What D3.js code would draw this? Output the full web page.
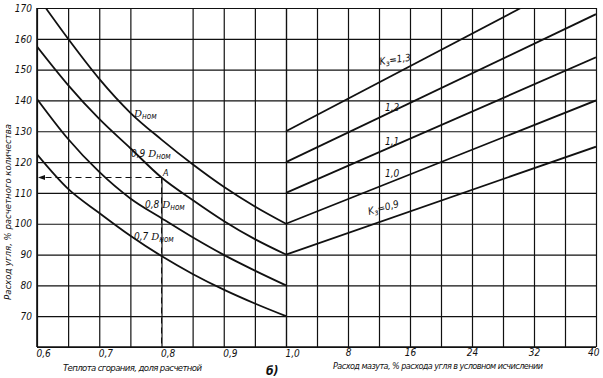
<!DOCTYPE html>
<html>
<head>
<meta charset="utf-8">
<script src="https://cdn.jsdelivr.net/npm/d3@7"></script>
<style>
  body { margin: 0; background: #fff; }
  svg text { font-family: "Liberation Sans Narrow", "DejaVu Sans Condensed", sans-serif; font-style: italic; fill: #111; }
  .grid line { stroke: #111; stroke-width: 1.2; }
  .grid path { display: none; }
</style>
</head>
<body>
<div id="chart"></div>
<script>
// coal consumption, % of design (y) vs heat value share (left part)
let heatGrid = [0.6, 0.65, 0.7, 0.75, 0.8, 0.85, 0.9, 0.95, 1.0];
let heatLabels = [0.6, 0.7, 0.8, 0.9, 1.0];

let curveDnom = [[0.614, 170], [0.65, 160], [0.70, 147], [0.75, 136], [0.80, 127.3], [0.85, 119.3], [0.90, 112], [0.95, 105.6], [1.0, 100]];
let curve09 = [[0.6, 157.5], [0.65, 145], [0.70, 134], [0.75, 124.5], [0.80, 115], [0.85, 107.7], [0.90, 100.9], [0.95, 95], [1.0, 90]];
let curve08 = [[0.6, 140.5], [0.65, 127.5], [0.70, 116.8], [0.75, 108.2], [0.80, 101.8], [0.85, 95.6], [0.90, 89.9], [0.95, 84.8], [1.0, 80]];
let curve07 = [[0.6, 122.5], [0.65, 111.3], [0.70, 103.5], [0.75, 96.1], [0.80, 89.5], [0.85, 83.7], [0.90, 78.6], [0.95, 74.1], [1.0, 70]];

// fuel oil share, % (right part)
let oilGrid = [0, 4, 8, 12, 16, 20, 24, 28, 32, 36, 40];
let oilLabels = [8, 16, 24, 32, 40];
let lineK13 = [[0, 130], [30.3, 170]];
let lineK12 = [[0, 120], [40, 168]];
let lineK11 = [[0, 110], [40, 154]];
let lineK10 = [[0, 100], [40, 140]];
let lineK09 = [[0, 90], [40, 125]];

let yGrid = [60, 70, 80, 90, 100, 110, 120, 130, 140, 150, 160, 170];
let pointA = [0.8, 115];

const W = 603, H = 378;
const m = {left: 37, mid: 286, right: 596, top: 8, bottom: 347};

const svg = d3.select("#chart").append("svg")
    .attr("width", W).attr("height", H);

const xL = d3.scaleLinear().domain([0.6, 1.0]).range([m.left, m.mid]);
const xR = d3.scaleLinear().domain([0, 40]).range([m.mid, m.right]);
const y = d3.scaleLinear().domain([60, 170]).range([m.bottom, m.top]);

const comma = d => d3.format(".1f")(d).replace(".", ",");

// horizontal grid + y labels
svg.append("g").attr("class", "grid")
    .attr("transform", `translate(${m.left},0)`)
    .call(d3.axisLeft(y).tickValues(yGrid).tickSize(-(m.right - m.left)).tickPadding(5)
        .tickFormat(d => d === 60 ? "" : d))
    .call(g => g.selectAll("text").attr("font-size", 10));

// vertical grid left part
let gL = svg.append("g").attr("class", "grid")
    .attr("transform", `translate(0,${m.bottom})`)
    .call(d3.axisBottom(xL).tickValues(heatGrid).tickSize(-(m.bottom - m.top)).tickPadding(3)
        .tickFormat(d => heatLabels.some(v => Math.abs(v - d) < 1e-9) ? comma(d) : ""));
gL.selectAll("text").attr("font-size", 10).attr("text-anchor", "start").attr("dx", -1);
gL.selectAll(".tick").filter(d => Math.abs(d - 0.8) < 1e-9).select("line")
    .attr("y2", y(pointA[1]) - m.bottom);

// vertical grid right part
let gR = svg.append("g").attr("class", "grid")
    .attr("transform", `translate(0,${m.bottom})`)
    .call(d3.axisBottom(xR).tickValues(oilGrid).tickSize(-(m.bottom - m.top)).tickPadding(2)
        .tickFormat(d => oilLabels.includes(d) ? d : ""));
gR.selectAll("text").attr("font-size", 10);
gR.selectAll(".tick").filter(d => d === 40).select("text").attr("text-anchor", "end").attr("dx", 3);

// frame edges slightly heavier
svg.append("line").attr("x1", m.left).attr("x2", m.left).attr("y1", m.top).attr("y2", m.bottom)
    .attr("stroke", "#111").attr("stroke-width", 1.6);
svg.append("line").attr("x1", m.left).attr("x2", m.right).attr("y1", m.bottom).attr("y2", m.bottom)
    .attr("stroke", "#111").attr("stroke-width", 1.6);

// dashed guides from point A
svg.append("line")
    .attr("x1", xL(pointA[0])).attr("x2", xL(pointA[0]))
    .attr("y1", y(pointA[1])).attr("y2", m.bottom)
    .attr("stroke", "#111").attr("stroke-width", 1).attr("stroke-dasharray", "6,4");
svg.append("line")
    .attr("x1", xL(pointA[0])).attr("x2", m.left + 4)
    .attr("y1", y(pointA[1])).attr("y2", y(pointA[1]))
    .attr("stroke", "#111").attr("stroke-width", 1).attr("stroke-dasharray", "6,4");
svg.append("path")
    .attr("d", `M${m.left + 1},${y(pointA[1])} l7,-2.5 l0,5 z`)
    .attr("fill", "#111");

// curves
svg.append("clipPath").attr("id", "clip")
    .append("rect").attr("x", m.left).attr("y", m.top)
    .attr("width", m.right - m.left).attr("height", m.bottom - m.top);

const lineL = d3.line().x(d => xL(d[0])).y(d => y(d[1])).curve(d3.curveMonotoneX);
const lineR = d3.line().x(d => xR(d[0])).y(d => y(d[1]));

let plot = svg.append("g").attr("clip-path", "url(#clip)");
[curveDnom, curve09, curve08, curve07].forEach(c => {
    plot.append("path").attr("d", lineL(c))
        .attr("fill", "none").attr("stroke", "#111").attr("stroke-width", 1.8);
});
[lineK13, lineK12, lineK11, lineK10, lineK09].forEach(c => {
    plot.append("path").attr("d", lineR(c))
        .attr("fill", "none").attr("stroke", "#111").attr("stroke-width", 1.8);
});

// curve labels
function dLabel(x, yy, prefix) {
    let t = svg.append("text").attr("x", x).attr("y", yy).attr("font-size", 10);
    if (prefix) t.append("tspan").text(prefix + " ");
    t.append("tspan").text("D").attr("font-family", "DejaVu Serif").attr("font-size", 10);
    t.append("tspan").text("ном").attr("font-size", 8).attr("dy", 2);
}
dLabel(134, 117, "");
dLabel(131, 157, "0,9");
dLabel(145, 208, "0,8");
dLabel(134, 240, "0,7");
svg.append("text").attr("x", 163).attr("y", 176).attr("font-size", 9).text("A");

function kLabel(x, yy, val, rot) {
    let t = svg.append("text").attr("x", x).attr("y", yy).attr("font-size", 10)
        .attr("transform", `rotate(${rot},${x},${yy})`);
    t.append("tspan").text("K");
    t.append("tspan").text("з").attr("font-size", 8).attr("dy", 2);
    t.append("tspan").text("=" + val).attr("dy", -2);
}
kLabel(380, 65, "1,3", -8);
svg.append("text").attr("x", 385).attr("y", 111).attr("font-size", 10).text("1,2");
svg.append("text").attr("x", 385).attr("y", 145).attr("font-size", 10).text("1,1");
svg.append("text").attr("x", 385).attr("y", 177).attr("font-size", 10).text("1,0");
kLabel(369, 215, "0,9", -15);

// axis titles
svg.append("text").attr("transform", "translate(11,212) rotate(-90)")
    .attr("text-anchor", "middle").attr("font-size", 9.5)
    .text("Расход угля, % расчетного количества");
svg.append("text").attr("x", 63).attr("y", 371).attr("font-size", 9.5)
    .attr("textLength", 139).text("Теплота сгорания, доля расчетной");
svg.append("text").attr("x", 333).attr("y", 369).attr("font-size", 9)
    .attr("textLength", 210).text("Расход мазута, % расхода угля в условном исчислении");
svg.append("text").attr("x", 266).attr("y", 375).attr("font-size", 12)
    .attr("font-weight", "bold").text("б)");
</script>
</body>
</html>
